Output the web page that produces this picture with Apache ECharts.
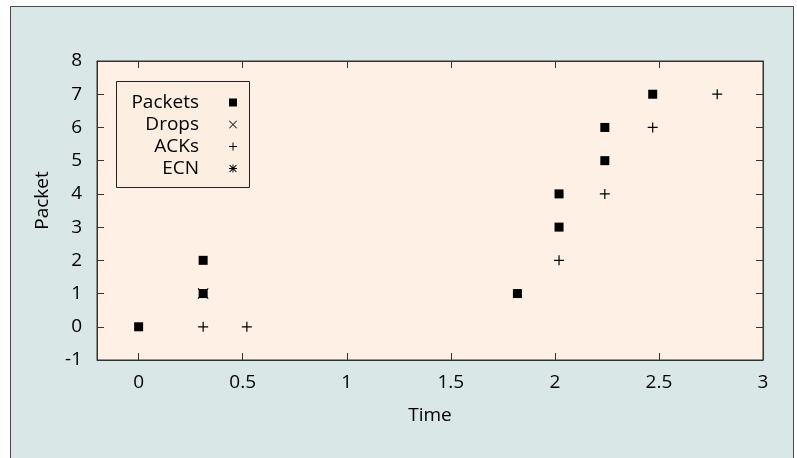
<!DOCTYPE html>
<html>
<head>
<meta charset="utf-8">
<script src="https://cdn.jsdelivr.net/npm/echarts@6/dist/echarts.min.js"></script>
<style>
html,body{margin:0;padding:0;background:#ffffff;}
#chart{width:797px;height:458px;}
</style>
</head>
<body>
<div id="chart"></div>
<script>
// ---- data ----
const seriesNames = ['Packets', 'Drops', 'ACKs', 'ECN'];
const packets = [[0, 0], [0.31, 1], [0.31, 2], [1.82, 1], [2.02, 3], [2.02, 4], [2.24, 5], [2.24, 6], [2.47, 7]];
const drops = [[0.31, 1]];
const acks = [[0.31, 0], [0.52, 0], [2.02, 2], [2.24, 4], [2.47, 6], [2.78, 7]];
const ecn = [];
const xTickLabels = ['0', '0.5', '1', '1.5', '2', '2.5', '3'];
const yTickLabels = ['-1', '0', '1', '2', '3', '4', '5', '6', '7', '8'];
const xTitle = 'Time';
const yTitle = 'Packet';

// ---- symbols ----
const SQ = 'path://M0,0H10V10H0Z';
const PLUS = 'path://M4.4,0H5.6V10H4.4ZM0,4.4H10V5.6H0Z';
const CROSS = 'path://M0.7,0L10,9.3L9.3,10L0,0.7ZM9.3,0L10,0.7L0.7,10L0,9.3Z';
const STAR = 'path://M4.4,0H5.6V10H4.4ZM0,4.4H10V5.6H0ZM1.2,0.4L9.6,8.8L8.8,9.6L0.4,1.2ZM8.8,0.4L9.6,1.2L1.2,9.6L0.4,8.8Z';

const FONT = 'Open Sans';
const FS = 19;
const chart = echarts.init(document.getElementById('chart'), null, {renderer: 'canvas'});

const fmtX = v => {
  const s = String(Math.round(v * 100) / 100);
  return xTickLabels.indexOf(s) >= 0 ? s : '';
};
const fmtY = v => {
  const s = String(Math.round(v));
  return yTickLabels.indexOf(s) >= 0 ? s : '';
};

const tickStyle = {inside: true, length: 7, lineStyle: {color: '#333', width: 1}};
const lineStyle = {show: true, onZero: false, lineStyle: {color: '#333', width: 1}};
const markStyle = {color: '#000', opacity: 1};

chart.setOption({
  animation: false,
  backgroundColor: 'transparent',
  graphic: [
    {type: 'rect', z: -10, shape: {x: 10.5, y: 6.5, width: 783, height: 470},
     style: {fill: '#d9e8e6', stroke: '#4a4a4a', lineWidth: 1}},
    {type: 'rect', z: 3, shape: {x: 116.5, y: 81.5, width: 133, height: 106},
     style: {fill: '#fdeee2', stroke: '#222', lineWidth: 1}}
  ],
  grid: {left: 97, right: 34, top: 61, bottom: 98, show: true,
         backgroundColor: '#fef0e4', borderColor: '#333', borderWidth: 1},
  legend: {
    orient: 'vertical', left: 117, top: 93, padding: 0,
    align: 'right', itemWidth: 58, itemHeight: 8, itemGap: 3,
    selectedMode: false, z: 5,
    data: seriesNames,
    itemStyle: {opacity: 1},
    formatter: name => '{a|' + name + '}',
    textStyle: {
      fontFamily: FONT, fontSize: FS, color: '#000',
      rich: {a: {width: 82, align: 'right', fontFamily: FONT, fontSize: FS, lineHeight: 19, color: '#000'}}
    }
  },
  xAxis: [
    {type: 'value', min: -0.2, max: 3, position: 'bottom',
     name: xTitle, nameLocation: 'middle', nameGap: 46,
     nameTextStyle: {fontFamily: FONT, fontSize: FS, color: '#000'},
     axisLine: lineStyle, splitLine: {show: false},
     axisTick: tickStyle,
     axisLabel: {fontFamily: FONT, fontSize: FS, color: '#000', margin: 13, formatter: fmtX, showMinLabel: false}},
    {type: 'value', min: -0.2, max: 3, position: 'top',
     axisLine: lineStyle, splitLine: {show: false},
     axisTick: tickStyle,
     axisLabel: {show: false}}
  ],
  yAxis: [
    {type: 'value', min: -1, max: 8, interval: 1, position: 'left',
     name: yTitle, nameLocation: 'middle', nameGap: 45,
     nameTextStyle: {fontFamily: FONT, fontSize: FS, color: '#000', padding: [0, 0, 0, 20]},
     axisLine: lineStyle, splitLine: {show: false},
     axisTick: tickStyle,
     axisLabel: {fontFamily: FONT, fontSize: FS, color: '#000', margin: 15, formatter: fmtY}},
    {type: 'value', min: -1, max: 8, interval: 1, position: 'right',
     axisLine: lineStyle, splitLine: {show: false},
     axisTick: tickStyle,
     axisLabel: {show: false}}
  ],
  series: [
    {name: 'Packets', type: 'scatter', data: packets, symbol: SQ, symbolSize: 9, symbolKeepAspect: true,
     xAxisIndex: 0, yAxisIndex: 0, itemStyle: markStyle, z: 3},
    {name: 'Drops', type: 'scatter', data: drops, symbol: CROSS, symbolSize: 11, symbolKeepAspect: true,
     xAxisIndex: 0, yAxisIndex: 0, itemStyle: markStyle, z: 2},
    {name: 'ACKs', type: 'scatter', data: acks, symbol: PLUS, symbolSize: 10, symbolKeepAspect: true,
     xAxisIndex: 0, yAxisIndex: 0, itemStyle: markStyle, z: 3},
    {name: 'ECN', type: 'scatter', data: ecn, symbol: STAR, symbolSize: 10, symbolKeepAspect: true,
     xAxisIndex: 0, yAxisIndex: 0, itemStyle: markStyle, z: 3}
  ]
});
</script>
</body>
</html>
